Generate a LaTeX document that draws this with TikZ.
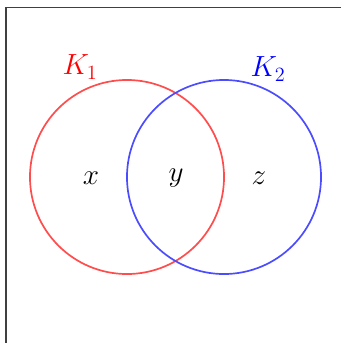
\documentclass[tikz,border=0pt]{standalone}
\usepackage{tikz}
\usetikzlibrary{positioning}

\begin{document}
\begin{tikzpicture}[
    x=0.025cm, y=-0.025cm,
    setline/.style={line width=1.2pt},
    lbl/.style={font=\fontsize{21}{25}\selectfont, inner sep=0pt}
]
\useasboundingbox (0,0) rectangle (341,343);

% Frame (clipped at right and bottom)
\begin{scope}
\clip (0,0) rectangle (341,343);
\draw[line width=1pt, black!75] (6,7.5) rectangle (360,360);
\end{scope}

% Sets
\node[circle, draw=red!70, setline, inner sep=0pt, minimum size=4.85cm] (k1) at (127,177) {};
\node[circle, draw=blue!70, setline, inner sep=0pt, minimum size=4.85cm] (k2) at (224,177) {};

% Labels
\node[lbl, text=red] (k1lbl) at (80,67) {$K_1$};
\node[lbl, text=blue] (k2lbl) at (268,69) {$K_2$};
\node[lbl] (xlbl) at (91,178) {$x$};
\node[lbl] (ylbl) at (176,178) {$y$};
\node[lbl] (zlbl) at (259,178) {$z$};

\end{tikzpicture}
\end{document}
